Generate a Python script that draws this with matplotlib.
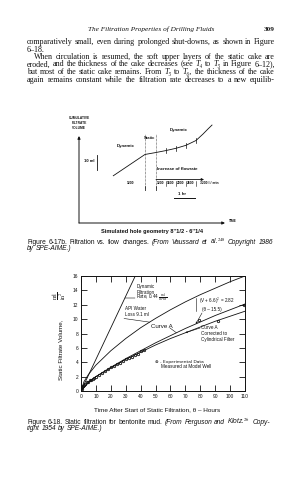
import matplotlib
matplotlib.use('Agg')
import matplotlib.pyplot as plt
import numpy as np

plt.rcParams['mathtext.fontset'] = 'stix'

# ---------------- data: Figure 6-18 (static filtration) ----------------
dyn_theta = [0, 36.4]
dyn_v = [0, 16.0]

api_theta = [0, 2, 5, 10, 20, 30, 40, 50, 60, 70, 80, 90, 100, 110]
api_v = [0, 1.3, 2.3, 3.6, 5.6, 7.3, 8.8, 10.1, 11.3, 12.4, 13.4, 14.3, 15.2, 16.0]

curveA_theta = [0, 5, 10, 20, 30, 40, 50, 60, 70, 80, 90, 100, 110]
curveA_v = [0, 1.2, 2.0, 3.3, 4.5, 5.6, 6.7, 7.7, 8.7, 9.6, 10.5, 11.3, 12.1]

corr_theta = [0, 5, 10, 20, 30, 40, 50, 60, 70, 80, 90, 100, 110]
corr_v = [0, 1.2, 2.0, 3.2, 4.4, 5.4, 6.4, 7.3, 8.1, 8.9, 9.7, 10.4, 11.1]

exp_theta = [0.5, 1, 1.5, 2, 3, 4, 5, 6, 7, 8, 9, 10, 12, 14, 16, 18, 20, 22,
             24, 26, 28, 30, 32, 34, 36, 38, 40, 42, 79, 92, 109]
exp_v = [0.3, 0.5, 0.7, 0.8, 1.0, 1.2, 1.3, 1.5, 1.6, 1.7, 1.8, 2.0, 2.2, 2.5,
         2.8, 3.0, 3.3, 3.5, 3.7, 3.9, 4.2, 4.4, 4.6, 4.8, 5.0, 5.2, 5.5, 5.7,
         9.9, 9.7, 11.9]

x_ticks = list(range(0, 111, 10))
y_ticks = list(range(0, 17, 2))

# ---------------- data: Figure 6-17b (schematic) ----------------
sch_t = [1.715, 3.3, 3.85, 4.35, 4.85, 5.35, 5.85, 6.2, 6.45, 6.65]
sch_v = [31.5, 45.7, 47.0, 48.3, 49.8, 51.8, 55.0, 59.3, 62.7, 65.3]
static_start, static_end = 3.3, 3.85
flow_change_t = [4.35, 4.85, 5.35, 5.85]
flow_labels_after = ['1200', '1600', '2000', '2600']
flow_first = '1200'
flow_last = '3200 l / min'

# ---------------- figure ----------------
W, H = 302, 480
fig = plt.figure(figsize=(W / 100, H / 100), dpi=100)
fig.patch.set_facecolor('white')
renderer = fig.canvas.get_renderer()

def fx(x):
    return x / W

def fy(y):
    return 1 - y / H

SERIF = ['Liberation Serif', 'DejaVu Serif']
SANS = ['Liberation Sans', 'DejaVu Sans']
INK = '#111111'

def fit_size(text, target, **kw):
    t = fig.text(0, 0, text, fontsize=10, **kw)
    w = t.get_window_extent(renderer=renderer).width
    t.remove()
    return 10 * target / w

def layout(x0, y, segs, x1=None):
    """segs: list of (text, kwargs). Words are laid out left to right;
    if x1 is given the line is justified to end at x1."""
    objs, widths = [], []
    for text, kw in segs:
        for w in text.split(' '):
            if w == '':
                continue
            o = fig.text(0, 0, w, ha='left', va='baseline', color=INK, **kw)
            objs.append(o)
            widths.append(o.get_window_extent(renderer=renderer).width)
    fs = segs[0][1].get('fontsize', 5)
    if x1 is not None and len(objs) > 1:
        gap = (x1 - x0 - sum(widths)) / (len(objs) - 1)
    else:
        gap = fs * 1.389 * 0.25
    cx = x0
    for o, w in zip(objs, widths):
        o.set_position((fx(cx), fy(y)))
        cx += w + gap

# ---- page header and body text ----
fig.text(fx(151), fy(31), 'The Filtration Properties of Drilling Fluids',
         family=SERIF, style='italic', fontsize=5.2, ha='center', va='baseline', color=INK)
fig.text(fx(275), fy(31), '309', family=SERIF, weight='bold', fontsize=5.2,
         ha='right', va='baseline', color=INK)

L, R = 27, 275
bfs = fit_size('comparatively small, even during prolonged shut-downs, as shown in Figure',
               244, family=SERIF)
body = dict(family=SERIF, fontsize=bfs)
bodyi = dict(family=SERIF, fontsize=bfs, style='italic')
layout(L, 44, [('comparatively small, even during prolonged shut-downs, as shown in Figure', body)], R)
layout(L, 51.5, [('6–18.', body)])
layout(34, 59, [('When circulation is resumed, the soft upper layers of the static cake are', body)], R)
layout(L, 66.5, [('eroded, and the thickness of the cake decreases (see', body), ('T₄', bodyi),
                 ('to', body), ('T₅', bodyi), ('in Figure 6–12),', body)], R)
layout(L, 74, [('but most of the static cake remains. From', body), ('T₅', bodyi), ('to', body),
               ('T₆,', bodyi), ('the thickness of the cake', body)], R)
layout(L, 81.5, [('again remains constant while the filtration rate decreases to a new equilib-', body)], R)

# ---------------- schematic (Figure 6-17b) ----------------
PX_PER_HR, PX_PER_ML = 20.0, 1.5
sx0, sx1, sy0, sytop = 79, 225, 223, 112
ax2 = fig.add_axes([fx(sx0), fy(sy0), (sx1 - sx0) / W, (sy0 - sytop) / H])
ax2.set_xlim(0, (sx1 - sx0) / PX_PER_HR)
ax2.set_ylim(0, (sy0 - sytop) / PX_PER_ML)
ax2.axis('off')
ax2.patch.set_alpha(0)

ax2.annotate('', xy=(0, (sy0 - 136) / PX_PER_ML), xytext=(0, 0),
             arrowprops=dict(arrowstyle='-|>', lw=0.7, color=INK, mutation_scale=4,
                             shrinkA=0, shrinkB=0))
ax2.annotate('', xy=((sx1 - sx0) / PX_PER_HR, 0), xytext=(0, 0),
             arrowprops=dict(arrowstyle='-|>', lw=0.7, color=INK, mutation_scale=4,
                             shrinkA=0, shrinkB=0))
ax2.plot(sch_t, sch_v, color=INK, lw=0.6, clip_on=False)
for tb in (static_start, static_end):
    ax2.plot([tb, tb], [22, 59.5], color=INK, lw=0.45, ls=(0, (1, 1.2)), clip_on=False)
fv = np.interp(flow_change_t, sch_t, sch_v)
for t, v in zip(flow_change_t, fv):
    ax2.plot([t, t], [v - 1.8, v + 1.8], color=INK, lw=0.5)

sb = dict(family=SANS, weight='bold', color=INK)
for i, w in enumerate(['CUMULATIVE', 'FILTRATE', 'VOLUME']):
    fig.text(fx(79), fy(119 + 5 * i), w, ha='center', va='baseline', fontsize=2.3, **sb)
fig.text(fx(150), fy(139), 'Static', ha='center', va='baseline', fontsize=3.0, **sb)
fig.text(fx(126), fy(147), 'Dynamic', ha='center', va='baseline', fontsize=3.2, **sb)
fig.text(fx(179), fy(131.5), 'Dynamic', ha='center', va='baseline', fontsize=3.2, **sb)
fig.text(fx(94), fy(161.5), '10 ml', ha='right', va='baseline', fontsize=3.0, **sb)
ax2.plot([0.92, 0.92], [(sy0 - 170) / PX_PER_ML, (sy0 - 155) / PX_PER_ML], color=INK, lw=0.6)
fig.text(fx(157), fy(170.5), 'Increase of flowrate', ha='left', va='baseline', fontsize=3.2, **sb)
ax2.annotate('', xy=(6.25, (sy0 - 179.5) / PX_PER_ML), xytext=(static_end, (sy0 - 179.5) / PX_PER_ML),
             arrowprops=dict(arrowstyle='-|>', lw=0.6, color=INK, mutation_scale=3.5,
                             shrinkA=0, shrinkB=0))
row_v = (sy0 - 184.5) / PX_PER_ML
fs_row = 2.4
ax2.text((1.715 + static_start) / 2 + 0.05, row_v, flow_first, ha='center', va='baseline',
         fontsize=fs_row, **sb)
bounds = [static_end] + flow_change_t
for i, lab in enumerate(flow_labels_after):
    ax2.text((bounds[i] + bounds[i + 1]) / 2, row_v, lab, ha='center', va='baseline',
             fontsize=fs_row, **sb)
ax2.text(flow_change_t[-1] + 0.2, row_v, flow_last, ha='left', va='baseline', fontsize=fs_row, **sb)
for t in bounds[1:]:
    ax2.plot([t, t], [row_v - 0.8, row_v + 2.5], color=INK, lw=0.4)
for tb in (static_start, static_end):
    ax2.plot([tb, tb], [row_v - 3.5, row_v - 1.0], color=INK, lw=0.5)
fig.text(fx(181.5), fy(195), '1 hr', ha='center', va='baseline', fontsize=3.2, **sb)
ax2.plot([4.75, 5.8], [(sy0 - 198) / PX_PER_ML] * 2, color=INK, lw=0.7)
fig.text(fx(229), fy(222), 'TIME', ha='left', va='baseline', fontsize=2.3, **sb)

fig.text(fx(152), fy(232.5), "Simulated hole geometry 8''1/2 - 6''1/4", ha='center',
         va='baseline', fontsize=4.1, **sb)

cfs = fit_size('Figure 6-17b. Filtration vs. flow changes. (From Vaussard et al.248 Copyright 1986',
               242, family=SANS)
cap = dict(family=SANS, fontsize=cfs)
capi = dict(family=SANS, fontsize=cfs, style='italic')
layout(27, 244, [('Figure 6-17b. Filtration vs. flow changes.', cap),
                 ('(From Vaussard et al.$^{248}$ Copyright 1986', capi)], 273)
layout(27, 250.5, [('by SPE-AIME.)', capi)])

# ---------------- chart (Figure 6-18) ----------------
ax = fig.add_axes([fx(81), fy(391), (245 - 81) / W, (391 - 276) / H])
ax.set_xlim(0, 110)
ax.set_ylim(0, 16)
ax.set_xticks(x_ticks)
ax.set_yticks(y_ticks)
ax.tick_params(direction='in', length=4, width=0.6, top=True, right=True,
               labelsize=3.5, pad=1.8, colors=INK)
for lab in ax.get_xticklabels() + ax.get_yticklabels():
    lab.set_family(SANS)
for s in ax.spines.values():
    s.set_linewidth(0.7)
    s.set_color(INK)

lc = dict(color=INK, lw=0.6)
ax.plot(dyn_theta, dyn_v, **lc)
ax.plot(api_theta, api_v, **lc)
ax.plot(curveA_theta, curveA_v, **lc)
ax.plot(corr_theta, corr_v, **lc)
ax.plot(exp_theta, exp_v, ls='none', marker='o', ms=1.7, mfc='none', mec=INK, mew=0.6)

ct = dict(family=SANS, fontsize=3.3, color=INK, va='baseline', ha='left')

def to_fig_px(px, py):
    return (px, H - py)

fig.text(fx(137), fy(288), 'Dynamic', **ct)
fig.text(fx(137), fy(293.5), 'Filtration', **ct)
fig.text(fx(136), fy(299.5), r'Rate, 0.44 $\frac{\mathrm{ml}}{\mathrm{in}^2\,\mathrm{hr}}$', **ct)
v_lead = (391 - 298) / 115 * 16
ax.annotate('', xy=(np.interp(v_lead, dyn_v, dyn_theta), v_lead), xytext=to_fig_px(135, 298),
            textcoords='figure pixels',
            arrowprops=dict(arrowstyle='-', lw=0.4, color=INK, shrinkA=0, shrinkB=0))
fig.text(fx(125), fy(310), 'API Water', **ct)
fig.text(fx(125), fy(316.5), 'Loss 9.1 ml', **ct)
ax.annotate('', xy=(46, np.interp(46, api_theta, api_v)), xytext=to_fig_px(124, 318.5),
            textcoords='figure pixels',
            arrowprops=dict(arrowstyle='-', lw=0.4, color=INK, shrinkA=0, shrinkB=0))
fig.text(fx(151), fy(327.5), 'Curve A', family=SANS, fontsize=4.4, color=INK, va='baseline')
ax.annotate('', xy=(64, np.interp(64, curveA_theta, curveA_v)), xytext=to_fig_px(170, 328),
            textcoords='figure pixels',
            arrowprops=dict(arrowstyle='-', lw=0.4, color=INK, shrinkA=0, shrinkB=0))
fig.text(fx(199), fy(303), r'(V + 6.6)$^2$ = 2.82', **ct)
fig.text(fx(202), fy(310.5), '(θ – 15.5)', **ct)
ax.plot([np.interp(196, [81, 245], [0, 110])] * 2, [(391 - 311) / 115 * 16, (391 - 298) / 115 * 16],
        color=INK, lw=0.4)
ax.annotate('', xy=(77, np.interp(77, curveA_theta, curveA_v)), xytext=to_fig_px(202, 313),
            textcoords='figure pixels',
            arrowprops=dict(arrowstyle='-|>', lw=0.4, color=INK, shrinkA=0, shrinkB=0,
                            mutation_scale=2.5))
fig.text(fx(201), fy(329), 'Curve A', **ct)
fig.text(fx(201), fy(335), 'Corrected to', **ct)
fig.text(fx(201), fy(341), 'Cylindrical Filter', **ct)
ax.annotate('', xy=(70, np.interp(70, corr_theta, corr_v)), xytext=to_fig_px(200, 328),
            textcoords='figure pixels',
            arrowprops=dict(arrowstyle='-|>', lw=0.4, color=INK, shrinkA=0, shrinkB=0,
                            mutation_scale=2.5))
fig.text(fx(155), fy(363), '⊗ - Experimental Data', family=['DejaVu Sans'], fontsize=3.2,
         color=INK, va='baseline', ha='left')
fig.text(fx(161), fy(368.5), 'Measured at Model Well', **ct)

fig.text(fx(157), fy(411), 'Time After Start of Static Filtration, θ – Hours', family=SANS,
         fontsize=4.6, color=INK, ha='center', va='baseline')
fig.text(fx(61), fy(350), 'Static Filtrate Volume,', family=SANS, fontsize=4.5, color=INK,
         rotation=90, ha='center', va='center')
fig.text(fx(60), fy(296), r'$\frac{\mathrm{ml}}{\mathrm{in^2}}$', fontsize=6.0, color=INK,
         rotation=90, ha='center', va='center')

layout(27, 423.5, [('Figure 6-18. Static filtration for bentonite mud.', cap),
                   ('(From Ferguson and Klotz.$^{26}$ Copy-', capi)], 270)
layout(27, 430, [('right 1954 by SPE-AIME.)', capi)])

fig.savefig('out.png', dpi=100, facecolor='white')
